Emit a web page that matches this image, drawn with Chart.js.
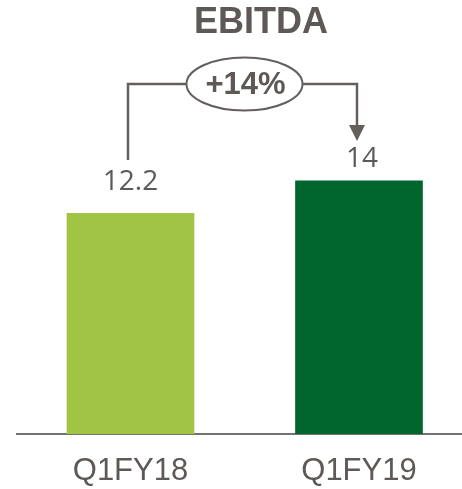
<!DOCTYPE html>
<html>
<head>
<meta charset="utf-8">
<script src="https://cdn.jsdelivr.net/npm/chart.js@4.4.0/dist/chart.umd.min.js"></script>
<style>
  body { margin: 0; background: #fff; }
  #wrap { width: 462px; height: 489px; position: relative; }
</style>
</head>
<body>
<div id="wrap"><canvas id="myChart"></canvas></div>
<script>
// data
const categories = ['Q1FY18', 'Q1FY19']
const ebitda = [12.2, 14]
const valueLabels = ['12.2', '14']
const growthLabel = '+14%'
const chartTitle = 'EBITDA'
const barColors = ['#a0c545', '#00662d']

const textColor = '#5e5956'
const lineColor = '#645f5c'

// draws title, value labels and the growth bracket
const overlay = {
    id: 'overlay',
    afterDraw: chart => {
        const ctx = chart.ctx
        const bars = chart.getDatasetMeta(0).data
        ctx.save()
        ctx.fillStyle = textColor
        ctx.textAlign = 'center'
        ctx.textBaseline = 'middle'

        ctx.font = 'bold 36px "Liberation Sans", Arial, sans-serif'
        ctx.fillText(chartTitle, 261, 23)

        ctx.font = '28px "Open Sans", "Liberation Sans", sans-serif'
        const gaps = [31, 22]
        bars.forEach((b, i) => {
            ctx.fillText(valueLabels[i], b.x + (i == 0 ? 0 : 3), b.y - gaps[i])
        })

        // bracket
        const lx = bars[0].x - 2.5
        const rx = bars[1].x - 2
        const cx = (lx + rx) / 2 + 2
        const cy = 84
        const ew = 58, eh = 26.5
        ctx.strokeStyle = lineColor
        ctx.lineWidth = 2.5
        ctx.beginPath()
        ctx.moveTo(lx, 160)
        ctx.lineTo(lx, cy)
        ctx.lineTo(cx - ew, cy)
        ctx.moveTo(cx + ew, cy)
        ctx.lineTo(rx, cy)
        ctx.lineTo(rx, 126)
        ctx.stroke()
        ctx.fillStyle = lineColor
        ctx.beginPath()
        ctx.moveTo(rx - 8, 125)
        ctx.lineTo(rx + 8, 125)
        ctx.lineTo(rx, 141)
        ctx.closePath()
        ctx.fill()

        ctx.lineWidth = 2
        ctx.beginPath()
        ctx.ellipse(cx, cy, ew, eh, 0, 0, Math.PI * 2)
        ctx.stroke()

        ctx.fillStyle = textColor
        ctx.font = 'bold 31px "Liberation Sans", Arial, sans-serif'
        ctx.fillText(growthLabel, cx + 1, cy + 1)
        ctx.restore()
    }
}

const points = ebitda.map((v, i) => ({ x: i, y: v }))

new Chart(document.querySelector('#myChart'), {
    type: 'bar',
    data: {
        datasets: [{
            data: points,
            backgroundColor: barColors,
            barThickness: 127
        }]
    },
    options: {
        responsive: true,
        maintainAspectRatio: false,
        devicePixelRatio: 1,
        animation: false,
        layout: { padding: { left: 17, right: 0, top: 0, bottom: 0 } },
        plugins: {
            legend: { display: false },
            tooltip: { enabled: false }
        },
        scales: {
            x: {
                type: 'linear',
                offset: false,
                min: -0.4967,
                max: 1.4508,
                grid: { display: false, drawTicks: false },
                border: { display: true, color: '#767171', width: 2 },
                ticks: {
                    stepSize: 1,
                    includeBounds: false,
                    autoSkip: false,
                    maxRotation: 0,
                    padding: 19,
                    color: textColor,
                    font: { family: '"Liberation Sans", Arial, sans-serif', size: 31 },
                    callback: v => Number.isInteger(v) ? categories[v] : ''
                },
                afterFit: scale => { scale.height = 55 }
            },
            y: {
                display: false,
                min: 0,
                max: 24
            }
        }
    },
    plugins: [overlay]
})
</script>
</body>
</html>
